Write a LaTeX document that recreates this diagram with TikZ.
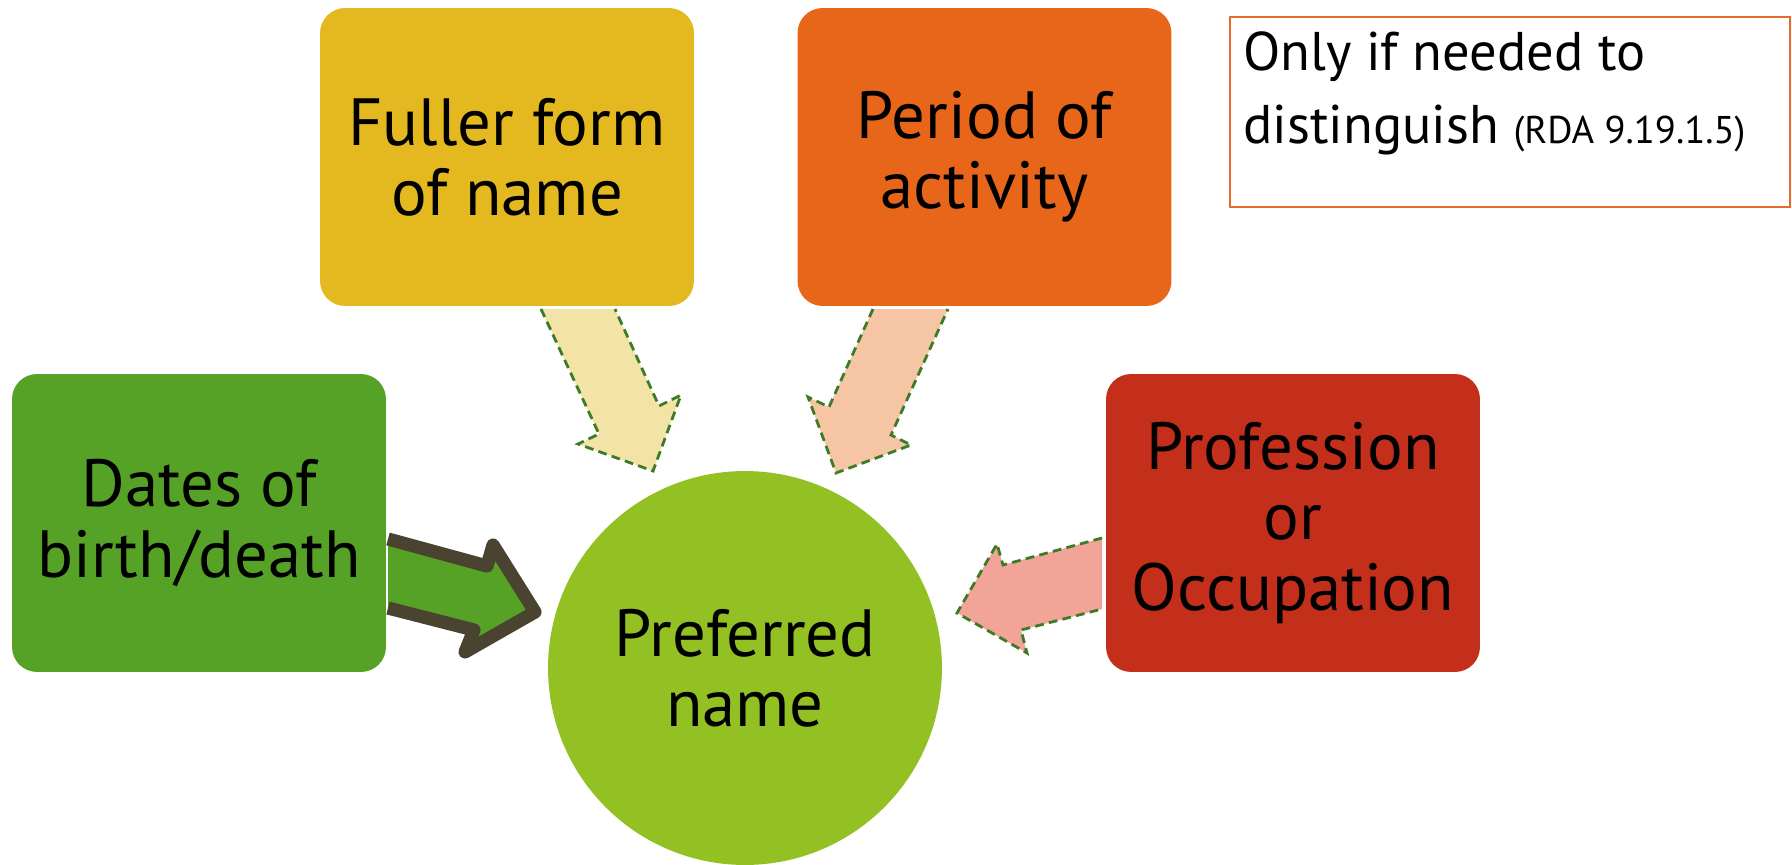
\documentclass[tikz,border=0pt]{standalone}
\usepackage{fontspec}
\setmainfont{PT Sans}
\usepackage{tikz}
\definecolor{fullercol}{HTML}{E4B91F}
\definecolor{periodcol}{HTML}{E7661A}
\definecolor{datescol}{HTML}{56A227}
\definecolor{profcol}{HTML}{C42F1B}
\definecolor{prefcol}{HTML}{93C124}
\definecolor{fullerlight}{HTML}{F4E3A6}
\definecolor{periodlight}{HTML}{F5C5A4}
\definecolor{proflight}{HTML}{F2A498}
\definecolor{dashgreen}{HTML}{3E7B27}
\definecolor{arrowdark}{HTML}{4A4330}
\definecolor{noteorange}{HTML}{E8692B}
\tikzset{
	field/.style={rectangle, rounded corners=0.5cm, minimum width=7.48cm, minimum height=5.96cm,
		align=center, font=\fontsize{38}{40}\selectfont},
	blockarrow/.style={draw=dashgreen, line width=1.6pt, dash pattern=on 5pt off 3pt, line join=miter},
}

\begin{document}
\begin{tikzpicture}[x=0.02cm, y=-0.02cm]
	\useasboundingbox (0,0) rectangle (1792,865);

	% arrows into the centre
	\fill[fullerlight] (541,309) -- (599,434) -- (578,444) -- (653,471) -- (681,395) -- (659,406) -- (615,309);
	\draw[blockarrow] (541,309) -- (599,434) -- (578,444) -- (653,471) -- (681,395) -- (659,406) -- (615,309);

	\fill[periodlight] (873,309) -- (829,407) -- (808,397) -- (836,473) -- (911,445) -- (891,435) -- (948,309);
	\draw[blockarrow] (873,309) -- (829,407) -- (808,397) -- (836,473) -- (911,445) -- (891,435) -- (948,309);

	\fill[proflight] (1102,538) -- (1003,565) -- (997,544) -- (957,613) -- (1027,653) -- (1021,630) -- (1102,609);
	\draw[blockarrow] (1102,538) -- (1003,565) -- (997,544) -- (957,613) -- (1027,653) -- (1021,630) -- (1102,609);

	\draw[arrowdark, fill=datescol, line width=7.5pt, line join=round]
		(388,539) -- (487,566) -- (493,545) -- (535,612) -- (465,652) -- (474,630) -- (388,608);

	% boxes
	\node[field, fill=fullercol] (fuller) at (507,157) {Fuller form\\of name};
	\node[field, fill=periodcol] (period) at (984.5,157) {Period of\\activity};
	\node[field, fill=datescol] (dates) at (199,523) {Dates of\\birth/death};
	\node[field, fill=profcol] (prof) at (1293,523) {Profession\\or\\Occupation};
	\node[circle, fill=prefcol, minimum size=7.88cm, align=center, font=\fontsize{38}{40}\selectfont] (pref) at (745,668) {Preferred\\name};

	% note
	\node[draw=noteorange, line width=1.1pt, minimum width=11.2cm, minimum height=3.8cm, anchor=north west] (note) at (1229,16) {};
	\node[anchor=north west, align=left, font=\fontsize{31}{42}\selectfont, inner sep=0pt] (notetext) at ([shift={(0.28cm,-0.3cm)}]note.north west)
		{Only if needed to\\distinguish {\fontsize{22}{24}\selectfont (RDA 9.19.1.5)}};
\end{tikzpicture}
\end{document}
